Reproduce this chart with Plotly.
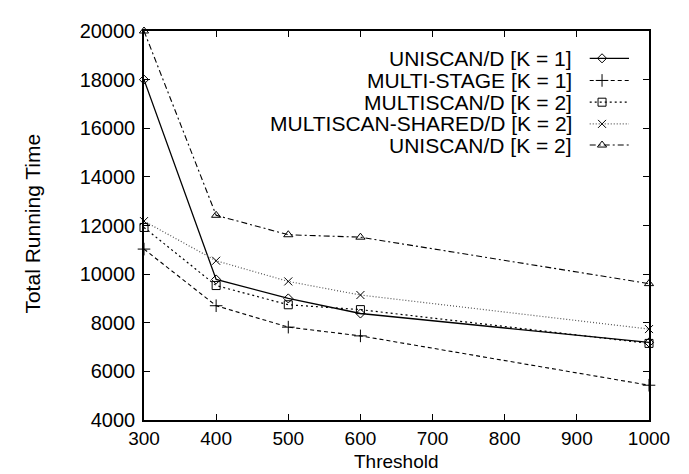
import plotly.graph_objects as go

thresholds = [300, 400, 500, 600, 1000]

series_names = [
    "UNISCAN/D [K = 1]",
    "MULTI-STAGE [K = 1]",
    "MULTISCAN/D [K = 2]",
    "MULTISCAN-SHARED/D [K = 2]",
    "UNISCAN/D [K = 2]",
]
uniscan_k1 = [18000, 9780, 9000, 8380, 7190]
multistage_k1 = [11030, 8700, 7820, 7460, 5430]
multiscan_k2 = [11920, 9530, 8740, 8540, 7150]
multiscan_shared_k2 = [12180, 10550, 9700, 9140, 7740]
uniscan_k2 = [20000, 12420, 11620, 11520, 9610]

x_ticks = [300, 400, 500, 600, 700, 800, 900, 1000]
y_ticks = [4000, 6000, 8000, 10000, 12000, 14000, 16000, 18000, 20000]
y_tick_labels = [str(v) for v in y_ticks]

all_values = [uniscan_k1, multistage_k1, multiscan_k2, multiscan_shared_k2, uniscan_k2]
styles = [
    dict(dash="solid", width=1.3, color="black", symbol="diamond-open", size=7),
    dict(dash="4px,3px", width=1.1, color="black", symbol="cross-thin-open", size=9),
    dict(dash="2px,3px", width=1.2, color="black", symbol="square-open", size=8),
    dict(dash="1px,2px", width=1.2, color="#555555", symbol="x-thin-open", size=8),
    dict(dash="6px,3px,2px,3px", width=1.1, color="black", symbol="triangle-up-open", size=8),
]

FONT = "Liberation Sans, Arial, Helvetica, sans-serif"
FS = 20
FS_X = 19
FS_KEY = 21

fig = go.Figure()
for name, vals, st in zip(series_names, all_values, styles):
    fig.add_trace(go.Scatter(
        x=thresholds, y=vals, name=name, mode="lines+markers",
        line=dict(color=st["color"], width=st["width"], dash=st["dash"]),
        marker=dict(symbol=st["symbol"], size=st["size"], color="black",
                    line=dict(color="black", width=1)),
        cliponaxis=False, showlegend=False,
    ))

# custom gnuplot-style key: text on the left, sample on the right
key_x_line = [0.8826, 0.9604]
key_x_mark = 0.907
key_x_text = 0.8515
key_rows = [0.9298, 0.8729, 0.8170, 0.7612, 0.7068]
for name, st, ky in zip(series_names, styles, key_rows):
    fig.add_trace(go.Scatter(
        x=key_x_line, y=[ky, ky], xaxis="x2", yaxis="y2", mode="lines",
        line=dict(color=st["color"], width=st["width"], dash=st["dash"]),
        showlegend=False, hoverinfo="skip", cliponaxis=False,
    ))
    fig.add_trace(go.Scatter(
        x=[key_x_mark], y=[ky], xaxis="x2", yaxis="y2", mode="markers",
        marker=dict(symbol=st["symbol"], size=st["size"], color="black",
                    line=dict(color="black", width=1)),
        showlegend=False, hoverinfo="skip", cliponaxis=False,
    ))
    fig.add_annotation(
        x=key_x_text, y=ky, xref="x2", yref="y2", text=name, showarrow=False,
        xanchor="right", yanchor="middle", font=dict(family=FONT, size=FS_KEY, color="black"),
    )

# axis titles
fig.add_annotation(x=0.5, y=-0.1078, xref="paper", yref="paper", text="Threshold",
                   showarrow=False, xanchor="center", yanchor="middle", borderpad=0,
                   font=dict(family=FONT, size=FS_X, color="black"))
fig.add_annotation(x=-0.2198, y=0.505, xref="paper", yref="paper", text="Total Running Time",
                   showarrow=False, xanchor="center", yanchor="middle", textangle=-90,
                   font=dict(family=FONT, size=FS_KEY, color="black"))

axis_common = dict(
    showline=True, linecolor="black", linewidth=1.5, mirror="ticks",
    ticks="inside", ticklen=6, tickcolor="black", tickwidth=1,
    showgrid=False, zeroline=False,
)

fig.update_layout(
    width=689, height=474,
    margin=dict(l=136, r=48, t=13, b=62),
    paper_bgcolor="white", plot_bgcolor="white",
    font=dict(family=FONT, size=FS, color="black"),
    xaxis=dict(range=[300, 1000], tickvals=x_ticks, ticklabelstandoff=0,
               tickfont=dict(family=FONT, size=FS_X, color="black"), **axis_common),
    yaxis=dict(range=[4000, 20000], tickvals=y_ticks, ticktext=y_tick_labels,
               ticklabelstandoff=3, tickfont=dict(family=FONT, size=FS, color="black"),
               **axis_common),
    xaxis2=dict(overlaying="x", range=[0, 1], visible=False, fixedrange=True),
    yaxis2=dict(overlaying="y", range=[0, 1], visible=False, fixedrange=True),
    showlegend=False,
)

fig.write_html("out.html")
